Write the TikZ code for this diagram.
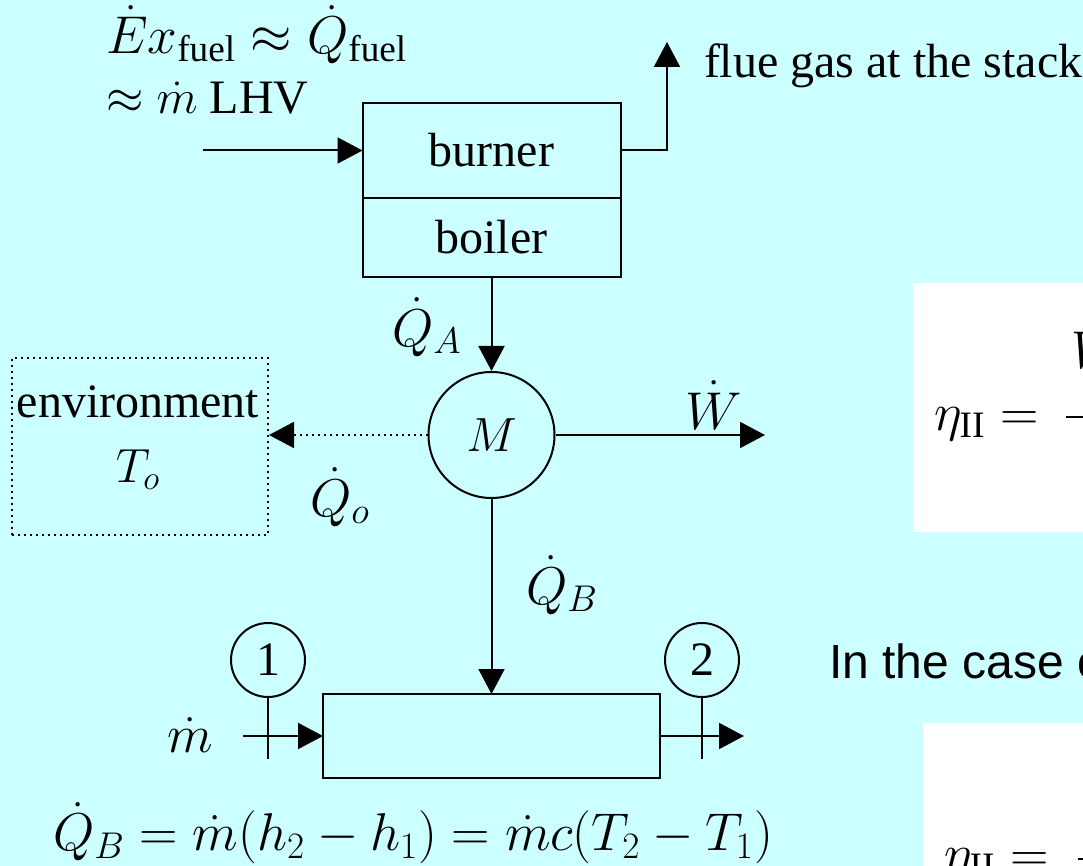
\RequirePackage{fix-cm}
\documentclass[tikz,border=0pt]{standalone}
\usepackage{amsmath}
\usepackage{fontspec}
\setmainfont{Liberation Serif}
\newfontfamily\arialfont{Liberation Sans}
\usetikzlibrary{arrows.meta,positioning}
\definecolor{slidecyan}{HTML}{CCFFFF}

\begin{document}
\begin{tikzpicture}[x=0.5pt,y=-0.5pt,>={Triangle[length=12.5pt,width=13pt]},line width=1pt,font=\fontsize{24}{29}\selectfont]
  \tikzstyle{blk}=[draw,minimum width=129pt,inner sep=0pt,outer sep=0pt]
  \tikzstyle{stn}=[draw,circle,minimum size=37pt,inner sep=0pt]
  \tikzstyle{lbl}=[inner sep=0pt]
  \tikzstyle{mth}=[inner sep=0pt,font=\fontsize{26.6}{32}\selectfont]
  \tikzstyle{eqbox}=[fill=white,inner sep=0pt]
  \useasboundingbox (0,0) rectangle (1083,866);
  \fill[slidecyan] (0,0) rectangle (1083,866);
  \clip (0,0) rectangle (1083,866);
  % plant
  \node[blk,minimum height=47.5pt] (burner) at (491.5,150.5) {burner};
  \node[blk,minimum height=39.5pt,below=0pt of burner] (boiler) {boiler};
  \node[draw,circle,minimum size=63pt,inner sep=0pt] (M) at (491.5,435) {$M$};
  \node[draw,dotted,minimum width=128pt,minimum height=88.5pt] (env) at (140,446.5) {};
  \node[lbl,align=center] (envtxt) at (138,438) {environment\\[3.5pt]$T_o$};
  \node[draw,minimum width=168.5pt,minimum height=42pt,outer sep=0pt] (heater) at (491.5,736) {};
  \node[stn] (s1) at (268,660) {1};
  \node[stn] (s2) at (702,660) {2};
  \coordinate (fuelin) at (203,150.5);
  \coordinate (stack) at (667,42);
  \coordinate (wout) at (765,435);
  \coordinate (min) at (243,736);
  \coordinate (mout) at (744,736);
  % flows
  \draw[->] (fuelin) -- (burner.west);
  \draw[->] (burner.east) -| (stack);
  \draw[->] (boiler.south) -- (M.north);
  \draw[->] (M.east) -- (wout);
  \draw[->,dotted] (M.west) -- (M.west -| env.east);
  \draw[->] (M.south) -- (heater.north);
  \draw[->] (min) -- (heater.west);
  \draw[->] (heater.east) -- (mout);
  \draw (s1.south) -- ++(0,61);
  \draw (s2.south) -- ++(0,61);
  % labels
  \node[mth,anchor=base west] (fuel1) at (105,54) {$\dot{E}x_{\mathrm{fuel}} \approx \dot{Q}_{\mathrm{fuel}}$};
  \node[lbl,anchor=base west] (fuel2) at ([yshift=-30pt]fuel1.base west) {$\approx \dot{m}$ LHV};
  \node[mth] (qa) at (427,327) {$\dot{Q}_A$};
  \node[mth] (w) at (714,405) {$\dot{W}$};
  \node[mth] (qo) at (340,497) {$\dot{Q}_o$};
  \node[mth] (qb) at (562,585) {$\dot{Q}_B$};
  \node[mth] (mdot) at (190,735) {$\dot{m}$};
  \node[lbl,anchor=base west] (flue) at (703,78) {flue gas at the stack};
  \node[mth] (heat) at (413,833) {$\dot{Q}_B = \dot{m}(h_2 - h_1) = \dot{m}c(T_2 - T_1)$};
  \node[lbl,anchor=base west] (case) at (828,678) {\arialfont In the case of};
  % efficiency boxes
  \node[eqbox,minimum width=88.5pt,minimum height=124.5pt] (eqa) at (1001.5,407.5) {};
  \node[mth,anchor=base west] (eta1) at (933,430) {$\eta_{\mathrm{II}} =$};
  \draw (1066,417) -- (1090,417);
  \node[mth,anchor=base west] (w1) at (1070,369) {$\dot{W}$};
  \node[eqbox,minimum width=86pt,minimum height=78.5pt] (eqb) at (1009,801.5) {};
  \node[mth,anchor=base west] (eta2) at (943,871) {$\eta_{\mathrm{II}} =$};
  \draw (1078,859) -- (1090,859);
  \node[mth,anchor=base west] (w2) at (1080,795) {$\dot{W}$};
\end{tikzpicture}
\end{document}
